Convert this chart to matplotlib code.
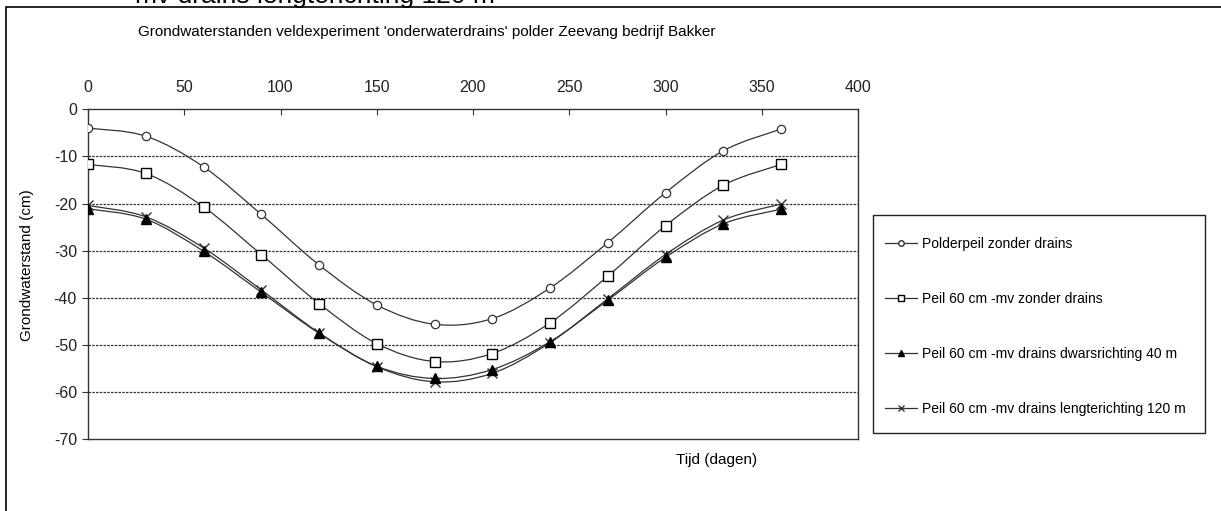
import numpy as np
import matplotlib
matplotlib.use("Agg")
import matplotlib.pyplot as plt
from matplotlib.path import Path
from matplotlib.patches import PathPatch, Rectangle
from matplotlib.lines import Line2D

plt.rcParams['font.family'] = ['Liberation Sans', 'DejaVu Sans']
plt.rcParams['axes.unicode_minus'] = False

# tijd in dagen
dagen = [0, 30, 60, 90, 120, 150, 180, 210, 240, 270, 300, 330, 360]

polder_zonder = [-4.0, -5.7, -12.2, -22.3, -33.0, -41.5, -45.6, -44.4, -37.9, -28.3, -17.7, -8.8, -4.2]
peil60_zonder = [-11.7, -13.6, -20.7, -30.8, -41.2, -49.7, -53.5, -51.8, -45.3, -35.4, -24.7, -16.1, -11.7]
peil60_dwars = [-21.1, -23.3, -30.1, -38.8, -47.5, -54.5, -57.1, -55.2, -49.3, -40.5, -31.4, -24.3, -21.2]
peil60_lengte = [-20.4, -22.8, -29.4, -38.3, -47.4, -54.6, -57.8, -56.0, -49.5, -40.2, -30.8, -23.5, -20.1]

namen = ['Polderpeil zonder drains',
         'Peil 60 cm -mv zonder drains',
         'Peil 60 cm -mv drains dwarsrichting 40 m',
         'Peil 60 cm -mv drains lengterichting 120 m']

xticks = [0, 50, 100, 150, 200, 250, 300, 350, 400]
yticks = [0, -10, -20, -30, -40, -50, -60, -70]

lijnkleur = '#333333'


def gladde_lijn(ax, x, y):
    # excel-achtige smoothing met bezier segmenten
    x = np.asarray(x, float)
    y = np.asarray(y, float)
    n = len(x)
    verts = [(x[0], y[0])]
    codes = [Path.MOVETO]
    for i in range(n - 1):
        i0 = max(i - 1, 0)
        i3 = min(i + 2, n - 1)
        c1 = (x[i] + (x[i + 1] - x[i0]) / 6, y[i] + (y[i + 1] - y[i0]) / 6)
        c2 = (x[i + 1] - (x[i3] - x[i]) / 6, y[i + 1] - (y[i3] - y[i]) / 6)
        verts += [c1, c2, (x[i + 1], y[i + 1])]
        codes += [Path.CURVE4, Path.CURVE4, Path.CURVE4]
    ax.add_patch(PathPatch(Path(verts, codes), facecolor='none', edgecolor=lijnkleur, lw=0.9, zorder=3))


fig = plt.figure(figsize=(12.21, 5.11), dpi=100)
W, H = 1221.0, 511.0

# buitenkader (alleen linker- en bovenrand zichtbaar)
fig.add_artist(Rectangle((6 / W, -0.1), 1.2, 1 - 7 / H + 0.1, transform=fig.transFigure,
                         facecolor='none', edgecolor='black', lw=1.2))

# afgesneden tekst bovenaan
fig.text(135 / W, 1 - 2.5 / H, 'mv drains lengterichting 120 m', fontsize=19,
         va='baseline', ha='left')

ax = fig.add_axes([88 / W, 1 - 439.3 / H, 770 / W, 330 / H])

gladde_lijn(ax, dagen, polder_zonder)
gladde_lijn(ax, dagen, peil60_zonder)
gladde_lijn(ax, dagen, peil60_dwars)
gladde_lijn(ax, dagen, peil60_lengte)

ax.plot(dagen, polder_zonder, ls='none', marker='o', ms=6, mfc='white', mec=lijnkleur, mew=0.9, zorder=4)
ax.plot(dagen, peil60_zonder, ls='none', marker='s', ms=6.5, mfc='white', mec='black', mew=1.0, zorder=4)
ax.plot(dagen, peil60_lengte, ls='none', marker='x', ms=7, mec=lijnkleur, mew=1.0, zorder=4)
ax.plot(dagen, peil60_dwars, ls='none', marker='^', ms=7, mfc='black', mec='black', zorder=5)

ax.set_xlim(0, 400)
ax.set_ylim(-70, 0)
ax.set_xticks(xticks)
ax.set_yticks(yticks)
ax.xaxis.tick_top()
ax.tick_params(axis='x', direction='in', length=4, pad=10, labelsize=11.5, colors='#333333')
ax.tick_params(axis='y', direction='out', length=4, pad=4, labelsize=11.5, colors='#333333')
for t in ax.get_xticklabels() + ax.get_yticklabels():
    t.set_color('#222222')

for y in yticks[1:-1]:
    ax.axhline(y, color='#333333', lw=0.9, ls=(0, (2, 1)), zorder=1)

for s in ax.spines.values():
    s.set_color('#333333')
    s.set_linewidth(1.0)

fig.text(427 / W, 1 - 32 / H, "Grondwaterstanden veldexperiment 'onderwaterdrains' polder Zeevang bedrijf Bakker",
         fontsize=11, ha='center', va='center')
fig.text(27 / W, 1 - 265 / H, 'Grondwaterstand (cm)', fontsize=11, rotation=90, ha='center', va='center')
fig.text(717 / W, 1 - 460 / H, 'Tijd (dagen)', fontsize=11, ha='center', va='center')

# legenda met los kader
fig.add_artist(Rectangle((873 / W, 1 - 433 / H), 332 / W, 218 / H, transform=fig.transFigure,
                         facecolor='white', edgecolor='#222222', lw=1.0, zorder=2))
handles = [Line2D([], [], color=lijnkleur, lw=0.9, marker='o', ms=4, mfc='white', mec=lijnkleur),
           Line2D([], [], color=lijnkleur, lw=0.9, marker='s', ms=4, mfc='white', mec='black'),
           Line2D([], [], color=lijnkleur, lw=0.9, marker='^', ms=4, mfc='black', mec='black'),
           Line2D([], [], color=lijnkleur, lw=0.9, marker='x', ms=4, mec=lijnkleur)]
leg = fig.legend(handles, namen, loc='upper left', bbox_to_anchor=(885 / W, 1 - 237 / H),
                 fontsize=10, frameon=False, labelspacing=2.95, handlelength=2.3,
                 handletextpad=0.35, borderpad=0, borderaxespad=0)
leg.set_zorder(3)

fig.savefig('out.png', dpi=100)
